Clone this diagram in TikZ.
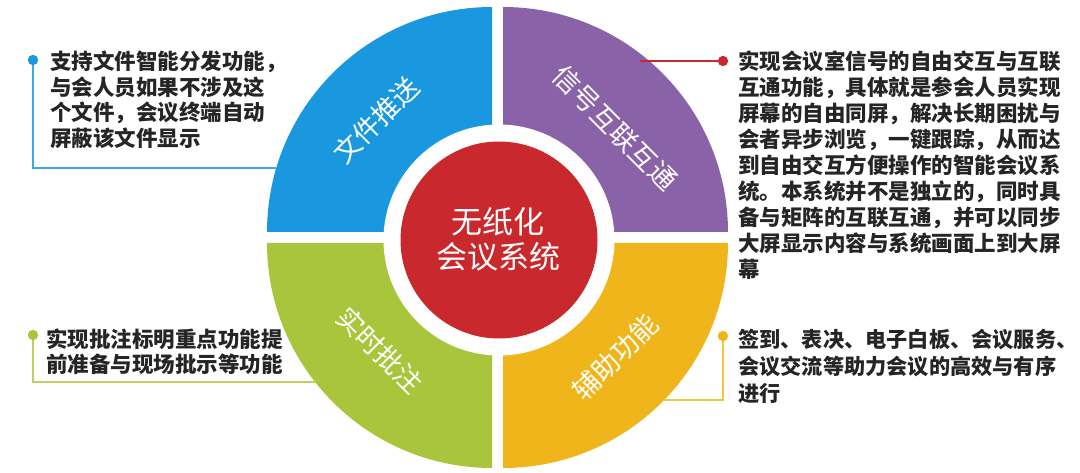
\documentclass[tikz,border=0pt]{standalone}
\usepackage{fontspec}
\setmainfont{Noto Sans CJK SC}
\definecolor{qblue}{HTML}{1A98DF}
\definecolor{qpurple}{HTML}{8A62A7}
\definecolor{qgreen}{HTML}{A8C53B}
\definecolor{qyellow}{HTML}{F0B51A}
\definecolor{qred}{HTML}{C9282C}
\definecolor{lblue}{HTML}{3DA8E2}
\definecolor{lgreen}{HTML}{B9D262}
\definecolor{lyellow}{HTML}{F2C440}
\definecolor{txt}{HTML}{252525}
\begin{document}
\begin{tikzpicture}[x=1pt,y=1pt,
  qlabel/.style={text=white,font=\fontsize{27}{30}\selectfont,inner sep=0pt},
  desc/.style={text=txt,align=left,anchor=north west,inner sep=0pt,font=\bfseries\fontsize{21.5}{26}\selectfont},
  dot/.style={circle,inner sep=0pt,minimum size=10pt},
  conn/.style={line width=1.5pt}]
\useasboundingbox (0,0) rectangle (1080,472);
\fill[white] (0,0) rectangle (1080,472);
% quadrants
\fill[qblue] (492,240) -- ++(-225,0) arc[start angle=180,end angle=90,radius=225] -- cycle;
\fill[qpurple] (503,240) -- ++(0,225) arc[start angle=90,end angle=0,radius=225] -- cycle;
\fill[qgreen] (492,229) -- ++(0,-225) arc[start angle=270,end angle=180,radius=225] -- cycle;
\fill[qyellow] (503,229) -- ++(225,0) arc[start angle=0,end angle=-90,radius=225] -- cycle;
% centre
\node[circle,fill=white,minimum size=231pt,inner sep=0pt] (ring) at (499,232) {};
\node[circle,fill=qred,minimum size=197pt,inner sep=0pt] (hub) at (499,232) {};
\node[text=white,align=center,inner sep=0pt,font=\fontsize{31}{35}\selectfont] (title) at (498,233) {无纸化\\会议系统};
% quadrant labels
\node[qlabel,rotate=45] (l1) at (376,352) {文件推送};
\node[qlabel,rotate=-45] (l2) at (615,344) {信号互联互通};
\node[qlabel,rotate=-45] (l3) at (380,122) {实时批注};
\node[qlabel,rotate=45] (l4) at (615,115) {辅助功能};
% connectors
\coordinate (e1) at (276,304);
\coordinate (e2) at (640,411);
\coordinate (e3) at (316,90);
\coordinate (e4) at (664,72);
\node[dot,fill=qblue] (d1) at (33,412) {};
\node[dot,fill=qred] (d2) at (723,411) {};
\node[dot,fill=qgreen] (d3) at (33,137) {};
\node[dot,fill=qyellow] (d4) at (723,136) {};
\draw[conn,lblue] (d1.center) |- (e1);
\draw[conn,qred] (d2.center) -- (e2);
\draw[conn,lgreen] (d3.center) |- (e3);
\draw[conn,lyellow] (d4.center) |- (e4);
\fill[qblue] (d1.center) circle[radius=5];
\fill[qred] (d2.center) circle[radius=5];
\fill[qgreen] (d3.center) circle[radius=5];
\fill[qyellow] (d4.center) circle[radius=5];
% descriptions
\node[desc,font=\bfseries\fontsize{21.5}{25.5}\selectfont] (t1) at (50,421) {支持文件智能分发功能，\\与会人员如果不涉及这\\个文件，会议终端自动\\屏蔽该文件显示};
\node[desc] (t2) at (738,421) {实现会议室信号的自由交互与互联\\互通功能，具体就是参会人员实现\\屏幕的自由同屏，解决长期困扰与\\会者异步浏览，一键跟踪，从而达\\到自由交互方便操作的智能会议系\\统。本系统并不是独立的，同时具\\备与矩阵的互联互通，并可以同步\\大屏显示内容与系统画面上到大屏\\幕};
\node[desc,font=\bfseries\fontsize{21.5}{25}\selectfont] (t3) at (46,143) {实现批注标明重点功能提\\前准备与现场批示等功能};
\node[desc,font=\bfseries\fontsize{21.2}{27}\selectfont] (t4) at (738,143) {签到、表决、电子白板、会议服务、\\会议交流等助力会议的高效与有序\\进行};
\end{tikzpicture}
\end{document}
